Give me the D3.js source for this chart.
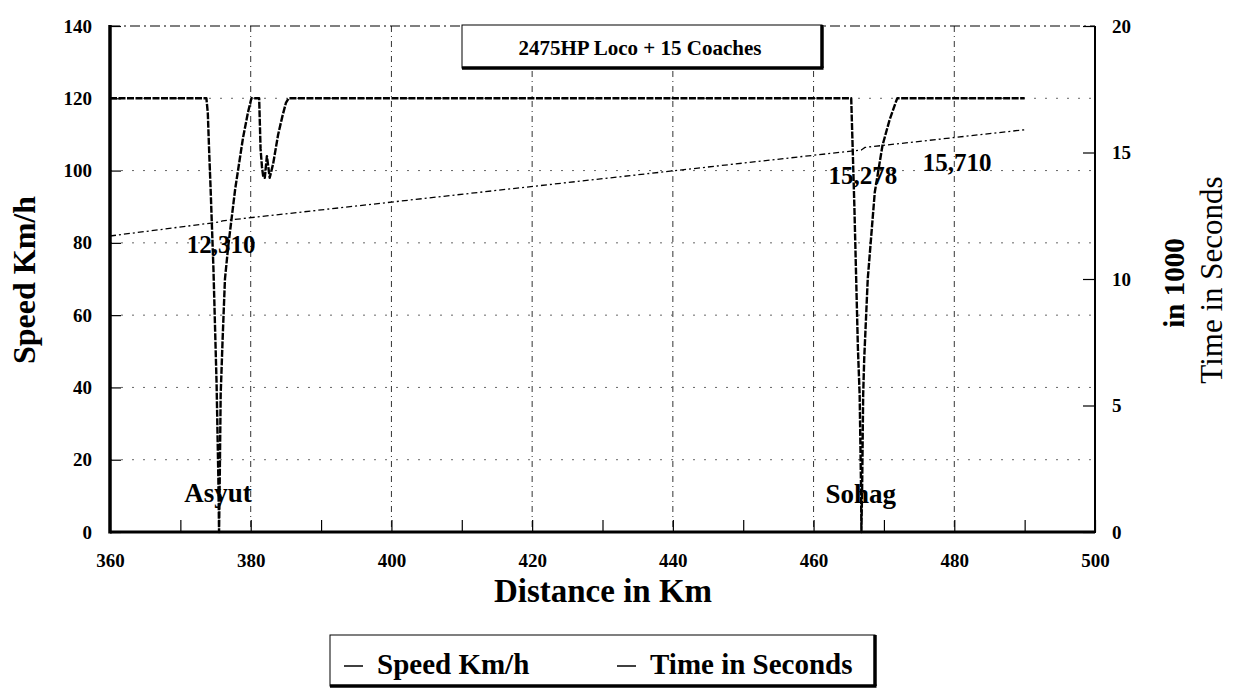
<!DOCTYPE html>
<html><head><meta charset="utf-8">
<script src="https://cdn.jsdelivr.net/npm/d3@7"></script>
<style>
body{margin:0;background:#fff}
text{font-family:"Liberation Serif","Times New Roman",serif;fill:#000}
</style>
</head><body>
<svg id="c" width="1247" height="695"></svg>
<script>
// ---- data ----
const speedKm  = [360, 373.7, 373.9, 374.1, 374.3, 374.7, 375.15, 375.4, 375.5, 375.6, 375.73, 376.0, 376.34, 376.8, 377.8, 378.9, 379.6, 380.1,
                  381.2, 381.3, 381.4, 381.6, 381.8, 382.0, 382.3, 382.7, 383.2, 383.9, 384.5, 385.0, 385.4,
                  465.35, 465.5, 465.8, 466.3, 466.55, 466.75, 466.8, 466.9, 467.05, 467.2, 467.7, 468.7, 469.8, 470.8, 471.7, 471.9, 490];
const speedKmh = [120, 120, 116, 105, 95, 73, 41, 15, 0, 15, 38, 53, 70, 79, 95, 109, 116, 120,
                  120, 113, 106, 101, 98, 98, 104, 98, 102, 110, 115, 118.7, 120,
                  120, 110, 90, 51, 38, 12, 0, 12, 38, 48, 70, 94, 107, 114, 119, 120, 120];
const timeKm   = [360, 375.5, 376.0, 466.8, 467.3, 490];
const timeK    = [11.7, 12.25, 12.3, 15.1, 15.2, 15.9];   // seconds in 1000
const xTicks      = [360, 380, 400, 420, 440, 460, 480, 500];
const xMinorTicks = [370, 390, 410, 430, 450, 470, 490];
const speedTicks  = [0, 20, 40, 60, 80, 100, 120, 140];
const timeTicks   = [0, 5, 10, 15, 20];
const timeLabels     = ["12,310", "15,278", "15,710"];
const timeLabelKm    = [375.8, 467.0, 480.4];
const timeLabelValue = [11.03, 13.75, 14.27];
const stations       = ["Asyut", "Sohag"];
const stationKm      = [375.35, 466.7];
const stationSpeed   = [8.3, 8.1];
const chartTitle  = "2475HP Loco + 15 Coaches";
const seriesNames = ["Speed Km/h", "Time in Seconds"];

// ---- chart ----
const svg = d3.select("#c");
const L = 110, R = 1095, T = 26, B = 532;
const x  = d3.scaleLinear().domain([360, 500]).range([L, R]);
const yS = d3.scaleLinear().domain([0, 140]).range([B, T]);
const yT = d3.scaleLinear().domain([0, 20]).range([B, T]);

// gridlines
svg.append("g").selectAll("line").data(xTicks.slice(1, -1)).join("line")
  .attr("x1", d => x(d)).attr("x2", d => x(d)).attr("y1", T).attr("y2", B)
  .attr("stroke", "#333").attr("stroke-width", 1).attr("stroke-dasharray", "6,4,1,4");
svg.append("g").selectAll("line").data(speedTicks.slice(1, -1)).join("line")
  .attr("x1", L).attr("x2", R).attr("y1", d => yS(d)).attr("y2", d => yS(d))
  .attr("stroke", "#666").attr("stroke-width", 1).attr("stroke-dasharray", "2,9");

// top border dashed
svg.append("line").attr("x1", L).attr("x2", R).attr("y1", T).attr("y2", T)
  .attr("stroke", "#000").attr("stroke-width", 1.2).attr("stroke-dasharray", "10,4,2,4");

// axes
const gl = svg.append("g").attr("transform", `translate(${L},0)`)
  .call(d3.axisLeft(yS).tickValues(speedTicks).tickSize(-11).tickSizeOuter(0).tickPadding(18));
const gr = svg.append("g").attr("transform", `translate(${R},0)`)
  .call(d3.axisRight(yT).tickValues(timeTicks).tickSize(-12).tickSizeOuter(0).tickPadding(17));
const gb = svg.append("g").attr("transform", `translate(0,${B})`)
  .call(d3.axisBottom(x).tickValues(xTicks).tickSize(-12).tickSizeOuter(0).tickPadding(22));
const gm = svg.append("g").attr("transform", `translate(0,${B})`)
  .call(d3.axisBottom(x).tickValues(xMinorTicks).tickSize(-12).tickSizeOuter(0).tickFormat(""));
[gl, gr, gb, gm].forEach(g => {
  g.selectAll("text").style("font-size", "19px").style("font-weight", "bold")
    .style("font-family", '"Liberation Serif","Times New Roman",serif').attr("fill", "#000");
  g.selectAll(".tick line").attr("stroke", "#000").attr("stroke-width", 1.2);
  g.select(".domain").remove();
});
// axis lines
svg.append("line").attr("x1", L).attr("x2", L).attr("y1", T - 1).attr("y2", B + 1.5)
  .attr("stroke", "#000").attr("stroke-width", 3.5);
svg.append("line").attr("x1", L).attr("x2", R).attr("y1", B).attr("y2", B)
  .attr("stroke", "#000").attr("stroke-width", 3);
svg.append("line").attr("x1", R).attr("x2", R).attr("y1", T).attr("y2", B + 1)
  .attr("stroke", "#000").attr("stroke-width", 2);

// series
const speedData = speedKm.map((k, i) => [k, speedKmh[i]]);
const timeData  = timeKm.map((k, i) => [k, timeK[i]]);
svg.append("path").datum(timeData)
  .attr("d", d3.line().x(d => x(d[0])).y(d => yT(d[1])))
  .attr("fill", "none").attr("stroke", "#000").attr("stroke-width", 1.3)
  .attr("stroke-dasharray", "6,3,2,3");
svg.append("path").datum(speedData)
  .attr("d", d3.line().x(d => x(d[0])).y(d => yS(d[1])))
  .attr("fill", "none").attr("stroke", "#000").attr("stroke-width", 2.4)
  .attr("stroke-dasharray", "7,1.5").attr("stroke-linejoin", "round");

// annotations
svg.append("g").selectAll("text").data(timeLabels).join("text")
  .attr("x", (d, i) => x(timeLabelKm[i])).attr("y", (d, i) => yT(timeLabelValue[i]))
  .attr("text-anchor", "middle").style("font-size", "25px").style("font-weight", "bold")
  .text(d => d);
svg.append("g").selectAll("text").data(stations).join("text")
  .attr("x", (d, i) => x(stationKm[i])).attr("y", (d, i) => yS(stationSpeed[i]))
  .attr("text-anchor", "middle").style("font-size", "27px").style("font-weight", "bold")
  .text(d => d);

// axis titles
svg.append("text").attr("transform", "translate(35,280) rotate(-90)")
  .attr("text-anchor", "middle").style("font-size", "32px").style("font-weight", "bold")
  .text("Speed Km/h");
svg.append("text").attr("transform", "translate(1184,283) rotate(-90)")
  .attr("text-anchor", "middle").style("font-size", "29px").style("font-weight", "bold")
  .text("in 1000");
svg.append("text").attr("transform", "translate(1222,280) rotate(-90)")
  .attr("text-anchor", "middle").style("font-size", "31px")
  .text("Time in Seconds");
svg.append("text").attr("x", 603).attr("y", 602)
  .attr("text-anchor", "middle").style("font-size", "33px").style("font-weight", "bold")
  .text("Distance in Km");

// boxed title and legend
function shadowBox(x0, y0, w, h) {
  const g = svg.append("g");
  g.append("rect").attr("x", x0).attr("y", y0).attr("width", w).attr("height", h)
    .attr("fill", "#fff").attr("stroke", "#000").attr("stroke-width", 1);
  g.append("line").attr("x1", x0).attr("x2", x0 + w + 1.5).attr("y1", y0 + h).attr("y2", y0 + h)
    .attr("stroke", "#000").attr("stroke-width", 3.5);
  g.append("line").attr("x1", x0 + w).attr("x2", x0 + w).attr("y1", y0).attr("y2", y0 + h)
    .attr("stroke", "#000").attr("stroke-width", 3.5);
  return g;
}
shadowBox(462, 25, 360, 43);
svg.append("text").attr("x", 640).attr("y", 55).attr("text-anchor", "middle")
  .style("font-size", "21px").style("font-weight", "bold").text(chartTitle);

shadowBox(330, 635, 545, 51);
const legX = [344, 617];
const leg = svg.append("g").selectAll("g").data(seriesNames).join("g")
  .attr("transform", (d, i) => `translate(${legX[i]},0)`);
leg.append("line").attr("x1", 0).attr("x2", 19).attr("y1", 666).attr("y2", 666)
  .attr("stroke", "#000").attr("stroke-width", 1.5);
leg.append("text").attr("x", 33).attr("y", 674)
  .style("font-size", "29px").style("font-weight", "bold").text(d => d);
</script>
</body></html>
